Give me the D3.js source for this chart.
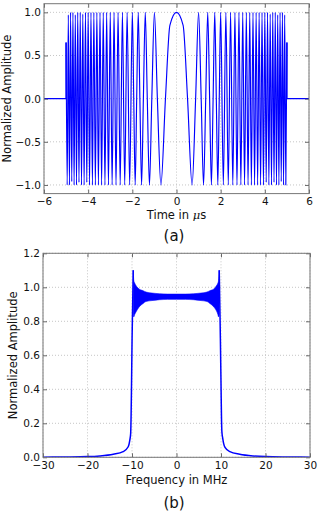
<!DOCTYPE html>
<html><head><meta charset="utf-8">
<script src="https://cdn.jsdelivr.net/npm/d3@7/dist/d3.min.js"></script>
<style>
html,body{margin:0;padding:0;background:#fff;}
svg{display:block;font-family:"DejaVu Sans",sans-serif;}
</style></head>
<body>
<svg id="c" width="320" height="515"></svg>
<script>
// ---------- data: (a) chirp in time ----------
const timeTicks = [-6, -4, -2, 0, 2, 4, 6];
const ampTicks = [-1.0, -0.5, 0.0, 0.5, 1.0];
// extrema times (t >= 0, µs); signal mirrored for t < 0
const extremaTimes = [0, 0.707, 1.0, 1.225, 1.414, 1.581, 1.732, 1.871, 2.0, 2.121, 2.236, 2.345, 2.449, 2.55, 2.646, 2.739, 2.828, 2.915, 3.0, 3.082, 3.162, 3.24, 3.317, 3.391, 3.464, 3.536, 3.606, 3.674, 3.742, 3.808, 3.873, 3.937, 4.0, 4.062, 4.123, 4.183, 4.243, 4.301, 4.359, 4.416, 4.472, 4.528, 4.583, 4.637, 4.69, 4.743, 4.796, 4.848, 4.899, 4.95, 5.0];
const extremaValues = [1, -1, 1, -1, 1, -1, 1, -1, 1, -1, 1, -1, 1, -1, 1, -1, 1, -1, 1, -1, 1, -1, 1, -1, 1, -1, 1, -1, 1, -1, 1, -1, 1, -0.97, 1, -1, 0.98, -1, 1, -0.97, 1, -1, 0.97, -1, 1, -0.96, 1, -1, 0.97, -1, 0.65];
// extra shape points of the slow central cycles (flat top, zero crossings)
const shapeTimes = [0.3, 0.5, 0.866, 1.118, 1.323, 1.5, 1.658, 1.803, 1.936];
const shapeValues = [0.85, 0, 0, 0, 0, 0, 0, 0, 0];
const flatTimes = [-6, -5, 5, 6];
const flatValues = [0, 0, 0, 0];

// ---------- data: (b) spectrum ----------
const freqTicks = [-30, -20, -10, 0, 10, 20, 30];
const specTicks = [0.0, 0.2, 0.4, 0.6, 0.8, 1.0, 1.2];
const skirtFreqLeft = [-30, -25, -20, -17.2, -14.2, -12, -10.85, -10.5, -10.3, -10.2, -10.12, -10.05, -9.98, -9.9, -9.82, -9.72];
const skirtAmpLeft = [0.001, 0.002, 0.004, 0.008, 0.018, 0.033, 0.062, 0.1, 0.14, 0.25, 0.4, 0.55, 0.7, 0.83, 0.95, 1.1];
const skirtFreqRight = [9.6, 9.7, 9.78, 9.86, 9.94, 10.02, 10.1, 10.2, 10.4, 10.6, 10.9, 12, 14.2, 17.2, 20, 25, 30];
const skirtAmpRight = [1.1, 0.95, 0.83, 0.7, 0.55, 0.4, 0.25, 0.15, 0.11, 0.08, 0.058, 0.033, 0.018, 0.008, 0.004, 0.002, 0.001];
const bandFreq = [-9.72, -9.6, -9.4, -9.1, -8.4, -7.5, -6.85, -5.5, -3.85, -2, 0, 2, 3.85, 5.5, 6.85, 7.5, 8.4, 9.0, 9.3, 9.45, 9.6];
const bandUpper = [1.1, 1.04, 1.025, 1.01, 0.99, 0.98, 0.972, 0.966, 0.962, 0.96, 0.96, 0.96, 0.962, 0.966, 0.972, 0.98, 0.99, 1.01, 1.025, 1.04, 1.1];
const bandLower = [0.84, 0.826, 0.84, 0.855, 0.884, 0.905, 0.917, 0.922, 0.927, 0.929, 0.929, 0.929, 0.927, 0.922, 0.917, 0.905, 0.884, 0.86, 0.84, 0.826, 0.84];

// ---------- drawing ----------
const svg = d3.select("#c");
const BLUE = "#0000ff";
const TICK_FS = "10.5px", LABEL_FS = "11.5px", PANEL_FS = "15px";
const fmtMinus = s => s.replace("-", "\u2212");

function frame(g, x, y, xt, yt) {
  const [x0, x1] = x.range(), [y0, y1] = y.range();
  g.append("g").selectAll("line").data(xt).join("line")
    .attr("x1", d => x(d)).attr("x2", d => x(d)).attr("y1", y0).attr("y2", y1)
    .attr("stroke", "#b8b8b8").attr("stroke-width", 0.8).attr("stroke-dasharray", "1,2");
  g.append("g").selectAll("line").data(yt).join("line")
    .attr("y1", d => y(d)).attr("y2", d => y(d)).attr("x1", x0).attr("x2", x1)
    .attr("stroke", "#b8b8b8").attr("stroke-width", 0.8).attr("stroke-dasharray", "1,2");
}
function axesOverlay(g, x, y, xt, yt, xfmt, yfmt) {
  const [x0, x1] = x.range(), [y0, y1] = y.range();
  const axB = d3.axisBottom(x).tickValues(xt).tickSizeInner(-4).tickSizeOuter(0).tickPadding(4).tickFormat(d => fmtMinus(xfmt(d)));
  const axT = d3.axisTop(x).tickValues(xt).tickSizeInner(-4).tickSizeOuter(0).tickFormat("");
  const axL = d3.axisLeft(y).tickValues(yt).tickSizeInner(-4).tickSizeOuter(0).tickPadding(3).tickFormat(d => fmtMinus(yfmt(d)));
  const axR = d3.axisRight(y).tickValues(yt).tickSizeInner(-4).tickSizeOuter(0).tickFormat("");
  const style = a => {
    a.select(".domain").remove();
    a.selectAll(".tick line").attr("stroke", "#444").attr("stroke-width", 0.8);
    a.selectAll(".tick text").attr("fill", "#111").style("font-size", TICK_FS).style("font-family", "DejaVu Sans");
  };
  g.append("g").attr("transform", `translate(0,${y0})`).call(axB).call(style);
  g.append("g").attr("transform", `translate(0,${y1})`).call(axT).call(style);
  g.append("g").attr("transform", `translate(${x0},0)`).call(axL).call(style);
  g.append("g").attr("transform", `translate(${x1},0)`).call(axR).call(style);
  g.append("rect").attr("x", x0).attr("y", y1).attr("width", x1 - x0).attr("height", y0 - y1)
    .attr("fill", "none").attr("stroke", "#777").attr("stroke-width", 1);
}

// ----- panel (a) -----
const xa = d3.scaleLinear().domain([-6, 6]).range([44, 309]);
const ya = d3.scaleLinear().domain([-1.1, 1.1]).range([193.6, 3.7]);
const ga = svg.append("g");
frame(ga, xa, ya, timeTicks, ampTicks);
svg.append("clipPath").attr("id", "clipA").append("rect")
  .attr("x", 44).attr("y", 3.7).attr("width", 265).attr("height", 190);
const halfPts = extremaTimes.map((t, i) => [t, extremaValues[i]])
  .concat(shapeTimes.map((t, i) => [t, shapeValues[i]]))
  .sort((a, b) => a[0] - b[0]);
const chirpPts = halfPts.slice(1).map(p => [-p[0], p[1]]).reverse().concat(halfPts);
const lineA = d3.line().x(d => xa(d[0])).y(d => ya(d[1]));
const pa = ga.append("g").attr("clip-path", "url(#clipA)");
const edgeVal = extremaValues[extremaValues.length - 1];
pa.append("path").datum([[flatTimes[0], flatValues[0]], [flatTimes[1], flatValues[1]], [flatTimes[1], edgeVal]])
  .attr("d", lineA).attr("fill", "none").attr("stroke", BLUE).attr("stroke-width", 1.4);
pa.append("path").datum([[flatTimes[2], edgeVal], [flatTimes[2], flatValues[2]], [flatTimes[3], flatValues[3]]])
  .attr("d", lineA).attr("fill", "none").attr("stroke", BLUE).attr("stroke-width", 1.4);
pa.append("path").datum(chirpPts)
  .attr("d", lineA.curve(d3.curveMonotoneX)).attr("fill", "none").attr("stroke", BLUE).attr("stroke-width", 1.15);
axesOverlay(ga, xa, ya, timeTicks, ampTicks, d3.format("d"), d3.format(".1f"));

ga.append("text").attr("transform", "translate(11,98.6) rotate(-90)").attr("text-anchor", "middle")
  .style("font-size", LABEL_FS).attr("fill", "#111").text("Normalized Amplitude");
const ta = ga.append("text").attr("x", 176.5).attr("y", 218.5).attr("text-anchor", "middle")
  .style("font-size", LABEL_FS).attr("fill", "#111");
ta.append("tspan").text("Time in ");
ta.append("tspan").style("font-style", "italic").style("font-family", "DejaVu Serif").text("\u03bc");
ta.append("tspan").text("s");
ga.append("text").attr("x", 174).attr("y", 241).attr("text-anchor", "middle")
  .style("font-size", PANEL_FS).attr("fill", "#111").text("(a)");

// ----- panel (b) -----
const xb = d3.scaleLinear().domain([-30, 30]).range([43, 310]);
const yb = d3.scaleLinear().domain([0, 1.2]).range([457.3, 253.3]);
const gb = svg.append("g");
frame(gb, xb, yb, freqTicks, specTicks);
svg.append("clipPath").attr("id", "clipB").append("rect")
  .attr("x", 43).attr("y", 253.3).attr("width", 267).attr("height", 204);
const pb = gb.append("g").attr("clip-path", "url(#clipB)");
const lineB = d3.line().x(d => xb(d[0])).y(d => yb(d[1])).curve(d3.curveMonotoneX);
pb.append("path").datum(bandFreq.map((f, i) => [f, bandUpper[i], bandLower[i]]))
  .attr("d", d3.area().x(d => xb(d[0])).y0(d => yb(d[2])).y1(d => yb(d[1])).curve(d3.curveMonotoneX))
  .attr("fill", BLUE).attr("stroke", BLUE).attr("stroke-width", 0.6);
pb.append("path").datum(skirtFreqLeft.map((f, i) => [f, skirtAmpLeft[i]]))
  .attr("d", lineB).attr("fill", "none").attr("stroke", BLUE).attr("stroke-width", 1.5);
pb.append("path").datum(skirtFreqRight.map((f, i) => [f, skirtAmpRight[i]]))
  .attr("d", lineB).attr("fill", "none").attr("stroke", BLUE).attr("stroke-width", 1.5);
axesOverlay(gb, xb, yb, freqTicks, specTicks, d3.format("d"), d3.format(".1f"));

gb.append("text").attr("transform", "translate(17,355.3) rotate(-90)").attr("text-anchor", "middle")
  .style("font-size", LABEL_FS).attr("fill", "#111").text("Normalized Amplitude");
gb.append("text").attr("x", 176.5).attr("y", 484).attr("text-anchor", "middle")
  .style("font-size", LABEL_FS).attr("fill", "#111").text("Frequency in MHz");
gb.append("text").attr("x", 174).attr("y", 508).attr("text-anchor", "middle")
  .style("font-size", PANEL_FS).attr("fill", "#111").text("(b)");
</script>
</body></html>
